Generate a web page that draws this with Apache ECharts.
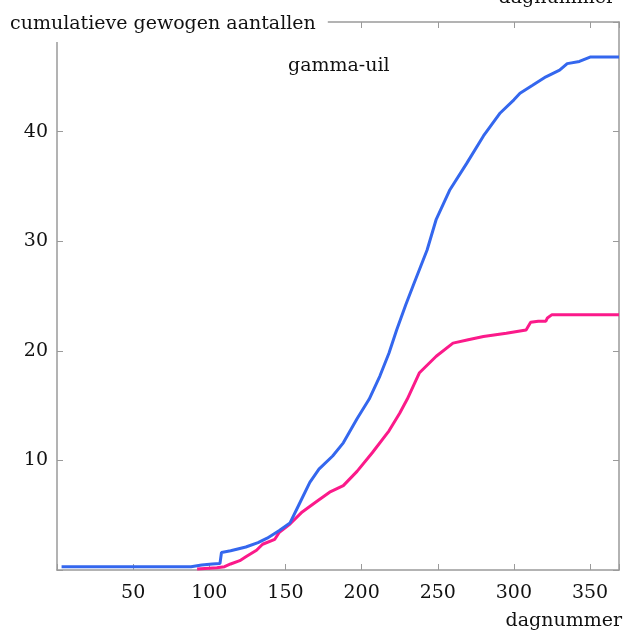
<!DOCTYPE html>
<html>
<head>
<meta charset="utf-8">
<script src="https://cdn.jsdelivr.net/npm/echarts@6/dist/echarts.min.js"></script>
<style>
    html, body { margin: 0; padding: 0; background: #fff; }
    #chart { width: 635px; height: 635px; }
</style>
</head>
<body>
<div id="chart"></div>
<script>
    // dagnummer + cumulatieve waarde
    var blauwDag = [3, 50, 88, 95, 102, 107, 108, 114, 124, 132, 138, 146, 153, 159, 166, 172, 181, 188, 197, 205,
        212, 218, 223, 229, 234, 243, 249, 258, 269, 280, 291, 300, 304, 312, 321, 330, 335, 343, 350, 369];
    var blauwWaarde = [0.3, 0.3, 0.3, 0.45, 0.55, 0.6, 1.6, 1.75, 2.1, 2.5, 2.9, 3.6, 4.3, 6.0, 8.0, 9.2, 10.4, 11.6, 13.8, 15.6,
        17.7, 19.8, 21.9, 24.2, 26.0, 29.2, 32.0, 34.7, 37.1, 39.6, 41.7, 42.9, 43.5, 44.2, 45.0, 45.6, 46.2, 46.4, 46.8, 46.8];

    var rozeDag = [92, 105, 110, 114, 120, 124, 131, 135, 143, 146, 153, 161, 170, 179, 188, 197, 207, 218, 225, 230,
        238, 249, 260, 270, 280, 295, 308, 311, 316, 321, 322, 325, 369];
    var rozeWaarde = [0.1, 0.2, 0.3, 0.55, 0.85, 1.2, 1.8, 2.35, 2.8, 3.45, 4.2, 5.3, 6.2, 7.1, 7.7, 9.0, 10.7, 12.7, 14.3, 15.6,
        18.0, 19.5, 20.7, 21.0, 21.3, 21.6, 21.9, 22.6, 22.7, 22.7, 23.0, 23.3, 23.3];

    var xTicks = [50, 100, 150, 200, 250, 300, 350];
    var yTicks = [10, 20, 30, 40];

    function paren(dagen, waarden) {
        var out = [];
        for (var i = 0; i < dagen.length; i++) {
            out.push([dagen[i], waarden[i]]);
        }
        return out;
    }

    var font = 'DejaVu Serif';
    var lijnKleur = '#9a9a9a';

    var chart = echarts.init(document.getElementById('chart'));
    var option = {
        backgroundColor: '#fff',
        animation: false,
        title: [{
            text: 'gamma-uil',
            left: 288,
            top: 57,
            padding: 0,
            textStyle: { fontFamily: font, fontSize: 19, fontWeight: 'normal', color: '#111' }
        }, {
            text: 'cumulatieve gewogen aantallen',
            left: 0,
            top: 10,
            padding: [5, 12, 8, 10],
            backgroundColor: '#fff',
            z: 10,
            textStyle: { fontFamily: font, fontSize: 19, fontWeight: 'normal', color: '#111' }
        }],
        grid: { left: 57, right: 16, top: 22, bottom: 65, outerBoundsMode: 'none', containLabel: false },
        xAxis: [{
            type: 'value',
            position: 'bottom',
            min: 0,
            max: 369,
            interval: 50,
            name: 'dagnummer',
            nameLocation: 'end',
            nameGap: 3,
            nameTextStyle: {
                fontFamily: font, fontSize: 19, color: '#111',
                align: 'right', verticalAlign: 'top', padding: [42, 0, 0, 0]
            },
            axisLine: { show: true, onZero: false, lineStyle: { color: lijnKleur, width: 1.5 } },
            axisTick: { show: true, inside: true, length: 6, lineStyle: { color: lijnKleur } },
            axisLabel: {
                margin: 14, fontFamily: font, fontSize: 19, color: '#111',
                formatter: function (v) { return xTicks.indexOf(v) >= 0 ? v : ''; }
            },
            splitLine: { show: false }
        }, {
            type: 'value',
            position: 'top',
            min: 0,
            max: 369,
            interval: 50,
            name: 'dagnummer',
            nameLocation: 'end',
            nameGap: -4,
            nameTextStyle: {
                fontFamily: font, fontSize: 19, color: '#111',
                align: 'right', verticalAlign: 'bottom', padding: [0, 0, 14, 0]
            },
            axisLine: { show: true, onZero: false, lineStyle: { color: lijnKleur, width: 1.5 } },
            axisTick: { show: true, inside: true, length: 6, lineStyle: { color: lijnKleur } },
            axisLabel: { show: false },
            splitLine: { show: false }
        }],
        yAxis: [{
            type: 'value',
            position: 'left',
            min: 0,
            max: 50,
            interval: 10,
            axisLine: { show: true, onZero: false, lineStyle: { color: lijnKleur, width: 1.5 } },
            axisTick: { show: true, inside: true, length: 6, lineStyle: { color: lijnKleur } },
            axisLabel: {
                margin: 9, fontFamily: font, fontSize: 19, color: '#111',
                formatter: function (v) { return yTicks.indexOf(v) >= 0 ? v : ''; }
            },
            splitLine: { show: false }
        }, {
            type: 'value',
            position: 'right',
            min: 0,
            max: 50,
            interval: 10,
            axisLine: { show: true, onZero: false, lineStyle: { color: lijnKleur, width: 1.5 } },
            axisTick: { show: true, inside: true, length: 6, lineStyle: { color: lijnKleur } },
            axisLabel: { show: false },
            splitLine: { show: false }
        }],
        series: [{
            name: 'blauw',
            type: 'line',
            data: paren(blauwDag, blauwWaarde),
            showSymbol: false,
            smooth: false,
            lineStyle: { color: '#3467ee', width: 3 },
            z: 3
        }, {
            name: 'roze',
            type: 'line',
            data: paren(rozeDag, rozeWaarde),
            showSymbol: false,
            smooth: false,
            lineStyle: { color: '#fb1a8a', width: 3 },
            z: 2
        }]
    };
    chart.setOption(option);
</script>
</body>
</html>
